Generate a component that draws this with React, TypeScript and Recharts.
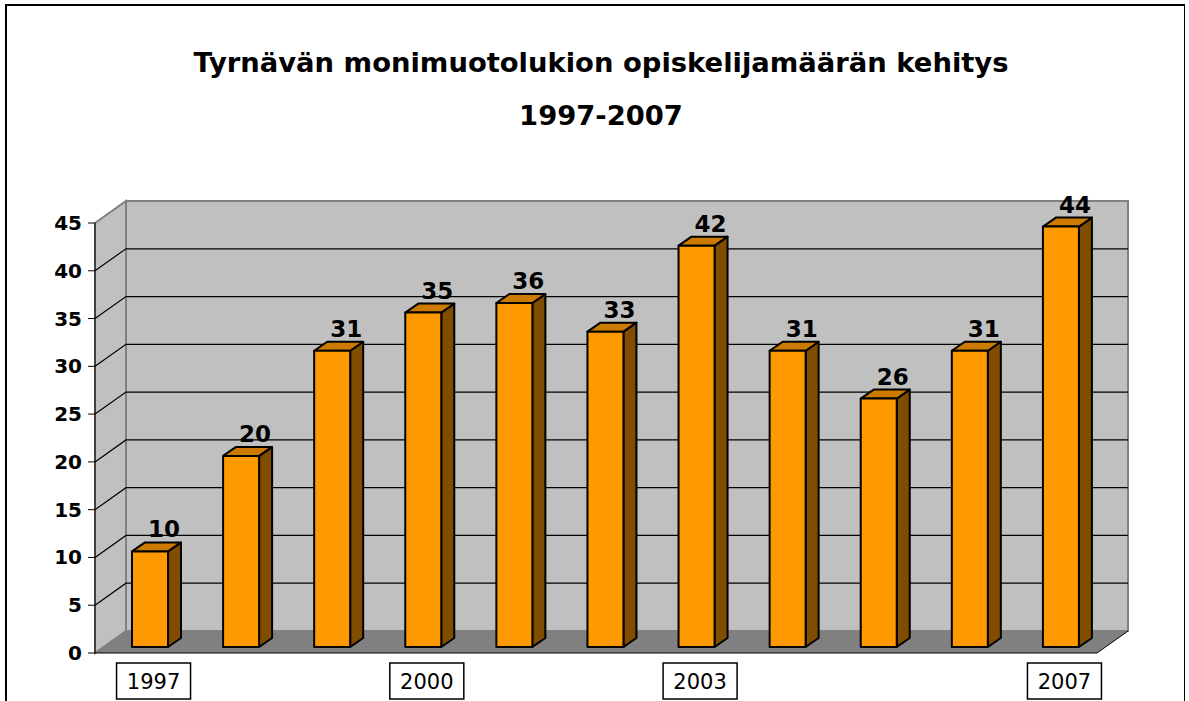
import React from 'react';
import { BarChart, Bar, XAxis, YAxis, LabelList, ReferenceArea, ReferenceLine } from 'recharts';

const years = ['1997', '1998', '1999', '2000', '2001', '2002', '2003', '2004', '2005', '2006', '2007'];
const students = [10, 20, 31, 35, 36, 33, 42, 31, 26, 31, 44];
const yTicks = [0, 5, 10, 15, 20, 25, 30, 35, 40, 45];
const shownYears = ['1997', '2000', '2003', '2007'];

const data = years.map((year, i) => ({ year, students: students[i] }));

const W = 1189;
const H = 701;
const FONT = '"Comic Sans MS", "DejaVu Sans", sans-serif';
const MARGIN = { top: 223, right: 92, bottom: 0, left: 0 };

// 3D depth of the whole box and of the bars
const DEPTH_X = 31;
const DEPTH_Y = -22;
const BAR_SHIFT_X = 9;
const BAR_SHIFT_Y = -6;
const BAR_DX = 13;
const BAR_DY = -9;

const WallShape = (props: any) => {
  const { x, y, width, height } = props;
  const bottom = y + height;
  const right = x + width;
  return (
    <g>
      {/* back wall */}
      <rect x={x + DEPTH_X} y={y + DEPTH_Y} width={width} height={height} fill="#c0c0c0" stroke="#808080" strokeWidth={2} />
      {/* left side wall */}
      <polygon
        points={`${x},${y} ${x + DEPTH_X},${y + DEPTH_Y} ${x + DEPTH_X},${bottom + DEPTH_Y} ${x},${bottom}`}
        fill="#c0c0c0"
        stroke="#808080"
        strokeWidth={2}
      />
      {/* floor */}
      <polygon
        points={`${x},${bottom} ${x + DEPTH_X},${bottom + DEPTH_Y} ${right + DEPTH_X},${bottom + DEPTH_Y} ${right},${bottom}`}
        fill="#808080"
      />
      <path
        d={`M${x},${bottom} L${right},${bottom} L${right + DEPTH_X},${bottom + DEPTH_Y}`}
        fill="none"
        stroke="#000"
        strokeWidth={1}
      />
      <line x1={x} y1={y} x2={x} y2={bottom} stroke="#000" strokeWidth={1} />
    </g>
  );
};

const GridShape = (props: any) => {
  const { x1, y1, x2 } = props;
  return (
    <path
      d={`M${x1},${y1} L${x1 + DEPTH_X},${y1 + DEPTH_Y} L${x2 + DEPTH_X},${y1 + DEPTH_Y}`}
      fill="none"
      stroke="#000"
      strokeWidth={1.2}
    />
  );
};

// recharts hands the tick x already moved left of the axis by tickSize + tickMargin
const YTick = (props: any) => {
  const { x, y, payload } = props;
  return (
    <g>
      <line x1={x + 1} y1={y} x2={x + 8} y2={y} stroke="#000" strokeWidth={1} />
      <text x={x - 5} y={y + 7} textAnchor="end" fontFamily={FONT} fontWeight="bold" fontSize={20} fill="#000">
        {payload.value}
      </text>
    </g>
  );
};

const XTick = (props: any) => {
  const { x, y, payload } = props;
  if (!shownYears.includes(payload.value)) return null;
  const cx = x + 13;
  return (
    <g>
      <rect x={cx - 37} y={y + 2} width={74} height={36} fill="#fff" stroke="#000" strokeWidth={1.5} />
      <text x={cx} y={y + 28} textAnchor="middle" fontFamily={FONT} fontSize={21} fill="#000">
        {payload.value}
      </text>
    </g>
  );
};

const Bar3D = (props: any) => {
  const { x, y, width, height } = props;
  const fx = x + BAR_SHIFT_X;
  const fy = y + BAR_SHIFT_Y;
  const bottom = fy + height;
  const right = fx + width;
  return (
    <g stroke="#000" strokeWidth={2} strokeLinejoin="round">
      <polygon
        points={`${right},${fy} ${right + BAR_DX},${fy + BAR_DY} ${right + BAR_DX},${bottom + BAR_DY} ${right},${bottom}`}
        fill="#7f4c00"
      />
      <polygon
        points={`${fx},${fy} ${fx + BAR_DX},${fy + BAR_DY} ${right + BAR_DX},${fy + BAR_DY} ${right},${fy}`}
        fill="#cc7a00"
      />
      <rect x={fx} y={fy} width={width} height={height} fill="#ff9900" />
    </g>
  );
};

const ValueLabel = (props: any) => {
  const { x, y, width, value } = props;
  return (
    <text
      x={x + width / 2 + BAR_SHIFT_X + 14}
      y={y + BAR_SHIFT_Y - 14}
      textAnchor="middle"
      fontFamily={FONT}
      fontWeight="bold"
      fontSize={23}
      fill="#000"
    >
      {value}
    </text>
  );
};

export default function App() {
  return (
    <div style={{ position: 'absolute', left: 0, top: 0, width: W, height: H, background: '#fff', overflow: 'hidden' }}>
      <div
        style={{
          position: 'absolute',
          left: 5,
          top: 4,
          width: 1177,
          height: 720,
          borderTop: '2px solid #000',
          borderLeft: '2px solid #000',
          borderRight: '1px solid #000',
        }}
      />
      <div
        style={{
          position: 'absolute',
          left: 0,
          top: 36,
          width: 1202,
          textAlign: 'center',
          fontFamily: FONT,
          fontWeight: 'bold',
          fontSize: 27.4,
          lineHeight: '53px',
          color: '#000',
        }}
      >
        <div>Tyrnävän monimuotolukion opiskelijamäärän kehitys</div>
        <div>1997-2007</div>
      </div>

      {/* background: walls, floor, gridlines, value axis */}
      <div style={{ position: 'absolute', left: 0, top: 0 }}>
        <BarChart width={W} height={H} data={data} margin={MARGIN}>
          <XAxis dataKey="year" height={48} axisLine={false} tickLine={false} tick={false} />
          <YAxis
            width={95}
            domain={[0, 45]}
            ticks={yTicks}
            axisLine={false}
            tickLine={false}
            tick={<YTick />}
            interval={0}
          />
          <ReferenceArea y1={0} y2={45} shape={<WallShape />} ifOverflow="visible" />
          {yTicks
            .filter((t) => t > 0 && t < 45)
            .map((t) => (
              <ReferenceLine key={t} y={t} shape={<GridShape />} ifOverflow="visible" />
            ))}
          <Bar dataKey="students" barSize={36} shape={() => null} isAnimationActive={false} />
        </BarChart>
      </div>

      {/* foreground: bars, values, category labels */}
      <div style={{ position: 'absolute', left: 0, top: 0 }}>
        <BarChart width={W} height={H} data={data} margin={MARGIN}>
          <XAxis dataKey="year" height={48} axisLine={false} tickLine={false} interval={0} tick={<XTick />} />
          <YAxis width={95} domain={[0, 45]} ticks={yTicks} axisLine={false} tickLine={false} tick={false} />
          <Bar dataKey="students" barSize={36} shape={<Bar3D />} isAnimationActive={false}>
            <LabelList dataKey="students" content={<ValueLabel />} />
          </Bar>
        </BarChart>
      </div>
    </div>
  );
}
